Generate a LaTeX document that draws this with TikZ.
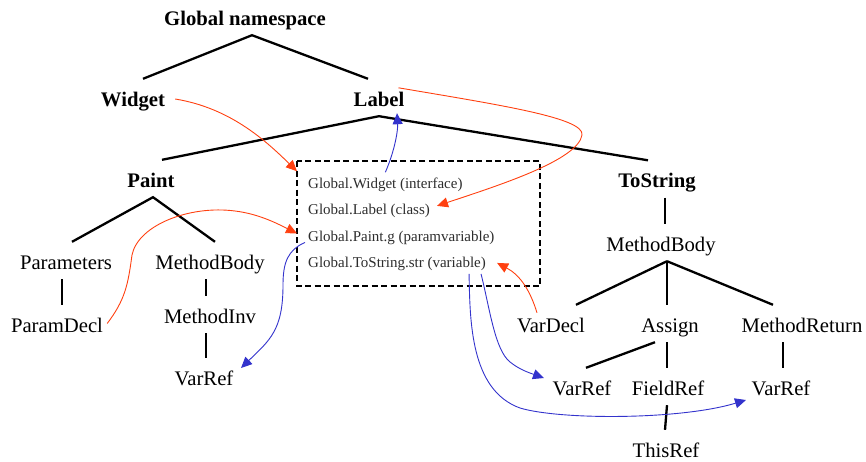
\documentclass[tikz,border=0pt]{standalone}
\usepackage{fontspec}
\setmainfont{Liberation Serif}
\usetikzlibrary{arrows.meta,calc}
\definecolor{refred}{RGB}{255,64,16}
\definecolor{refblue}{RGB}{51,51,204}
\definecolor{boxtext}{RGB}{45,45,45}
\begin{document}
\begin{tikzpicture}[x=1pt,y=-1pt,
  tn/.style={inner sep=0pt,text height=27pt,text depth=10pt,anchor=base,font=\fontsize{20.7}{24}\selectfont},
  tb/.style={tn,font=\fontsize{20.7}{24}\selectfont\bfseries},
  bt/.style={inner sep=0pt,anchor=base west,text=boxtext,font=\fontsize{15}{18}\selectfont},
  edge/.style={line width=2.3pt,black},
  dbox/.style={line width=1.8pt,dash pattern=on 6pt off 3.5pt},
  redarr/.style={refred,line width=0.9pt,-{Triangle[length=11pt,width=10pt]}},
  bluearr/.style={refblue,line width=0.9pt,-{Triangle[length=11pt,width=10pt]}}]
\useasboundingbox (0,0) rectangle (866,461);
% tree nodes
\node[tb] (gn) at (245,25) {Global namespace};
\node[tb] (w) at (133,106) {Widget};
\node[tb] (lab) at (379,106) {Label};
\node[tb] (paint) at (151,187) {Paint};
\node[tb] (ts) at (657,187.5) {ToString};
\node[tn] (params) at (66,269) {Parameters};
\node[tn] (mb1) at (210,269) {MethodBody};
\node[tn] (pd) at (57,332) {ParamDecl};
\node[tn] (mi) at (210,323) {MethodInv};
\node[tn] (vr1) at (204,385) {VarRef};
\node[tn] (mb2) at (661,251) {MethodBody};
\node[tn] (vd) at (551,332) {VarDecl};
\node[tn] (as) at (670,332) {Assign};
\node[tn] (mr) at (802,332) {MethodReturn};
\node[tn] (vr2) at (582,395) {VarRef};
\node[tn] (fr) at (668,395) {FieldRef};
\node[tn] (vr3) at (781,395) {VarRef};
\node[tn] (this) at (666,457) {ThisRef};
% box contents
\node[bt] (bw) at (308,188) {Global.Widget (interface)};
\node[bt] (bl) at (308,214.5) {Global.Label (class)};
\node[bt] (bp) at (308,241) {Global.Paint.g (paramvariable)};
\node[bt] (bs) at (308,267.5) {Global.ToString.str (variable)};
\draw[dbox] (297,161) rectangle (540,286);
% tree edges
\draw[edge] ([xshift=10pt]w.north) -- ([xshift=7pt]gn.south) -- ([xshift=-11pt]lab.north);
\draw[edge] ([xshift=11pt]paint.north) -- (lab.south) -- ([xshift=-9pt]ts.north);
\draw[edge] ([xshift=6pt]params.north) -- ([xshift=2pt]paint.south) -- ([xshift=5pt]mb1.north);
\draw[edge] ([xshift=-4pt]params.south) -- ([xshift=5pt]pd.north);
\draw[edge] ([xshift=-4pt]mb1.south) -- ([xshift=-4pt]mi.north);
\draw[edge] ([xshift=-4pt]mi.south) -- ([xshift=2pt]vr1.north);
\draw[edge] ([xshift=8pt]ts.south) -- ([xshift=4pt]mb2.north);
\draw[edge] ([xshift=6pt]mb2.south) -- ([xshift=25pt]vd.north);
\draw[edge] ([xshift=6pt]mb2.south) -- ([xshift=-3pt]as.north);
\draw[edge] ([xshift=6pt]mb2.south) -- ([xshift=-29pt]mr.north);
\draw[edge] ([xshift=-15pt]as.south) -- ([xshift=4pt]vr2.north);
\draw[edge] ([xshift=-3pt]as.south) -- ([xshift=-1pt]fr.north);
\draw[edge] ([xshift=-19pt]mr.south) -- ([xshift=2pt]vr3.north);
\draw[edge] ([xshift=-1pt]fr.south) -- ([xshift=-1pt]this.north);
% red arrows
\draw[redarr] ($(w.east)+(10,1.5)$) .. controls (230,108) and (265,140) .. ($(bw.north west)+(-11,-6)$);
\draw[redarr] ($(lab.north east)+(-6,9)$) .. controls (500,105) and (585,118) .. (582,135)
  .. controls (578,160) and (500,185) .. ($(bl.east)+(7,-5)$);
\draw[redarr] ($(pd.east)+(4,0)$) .. controls (125,300) and (128,285) .. (132,255)
  .. controls (138,225) and (190,205) .. (235,211) .. controls (260,214) and (280,225) .. ($(bp.west)+(-11,-4)$);
\draw[redarr] ($(vd.north)+(-14,8)$) .. controls (530,290) and (520,275) .. ($(bs.east)+(11,-1)$);
% blue arrows
\draw[bluearr] ($(bw.north)+(0,-5)$) .. controls (395,150) and (398,130) .. ($(lab.south)+(18,-3)$);
\draw[bluearr] ($(bp.west)+(-3,5)$) .. controls (288,250) and (283,262) .. (283,285)
  .. controls (283,330) and (270,340) .. ($(vr1.east)+(7.5,-8.5)$);
\draw[bluearr] ($(bs.south east)+(-5,3)$) .. controls (490,310) and (495,350) .. (510,362)
  .. controls (520,370) and (530,373) .. ($(vr2.west)+(-8.5,-8.5)$);
\draw[bluearr] ($(bs.south east)+(-17,3)$) .. controls (470,320) and (470,390) .. (520,408)
  .. controls (560,420) and (680,420) .. ($(vr3.west)+(-5.5,13.5)$);
\end{tikzpicture}
\end{document}
